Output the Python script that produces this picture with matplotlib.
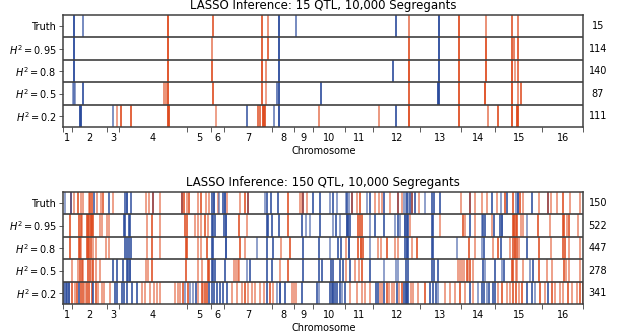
import numpy as np
import matplotlib
matplotlib.use("Agg")
import matplotlib.pyplot as plt
from matplotlib import transforms
from matplotlib.colors import to_rgba

# chromosome lengths in genome map units (16 yeast chromosomes)
CHROM_LEN = [8.4, 35.0, 12.6, 67.4, 24.3, 13.0, 47.7, 22.6,
             19.0, 31.7, 28.3, 46.7, 41.0, 34.0, 47.3, 41.0]
CHROM_NAMES = [str(i) for i in range(1, 17)]

ROW_LABELS = ["Truth", r"$H^2 = 0.95$", r"$H^2 = 0.8$", r"$H^2 = 0.5$", r"$H^2 = 0.2$"]

TITLE_15 = "LASSO Inference: 15 QTL, 10,000 Segregants"
TITLE_150 = "LASSO Inference: 150 QTL, 10,000 Segregants"
COUNTS_15 = [15, 114, 140, 87, 111]
COUNTS_150 = [150, 522, 447, 278, 341]

# (position, effect) ; effect > 0 red, < 0 blue, |effect| = strength
q15_truth = [(11.0, -0.9), (19.4, -0.55), (105.0, 0.9), (149.7, 0.75), (198.4, 0.8),
             (205.0, 0.5), (215.4, -0.9), (232.4, -0.55), (333.0, -0.8), (345.4, 0.55),
             (375.4, -0.9), (395.4, 0.85), (423.0, 0.5), (448.4, 0.75), (454.4, 0.6)]
q15_h95 = [(11.0, -0.9), (105.0, 0.9), (148.7, 0.5), (199.0, 0.8), (204.4, 0.75),
           (215.4, -0.9), (345.4, 0.8), (375.4, -0.9), (395.4, 0.85), (422.7, 0.85),
           (448.4, 0.8), (450.4, 0.6), (454.4, 0.8)]
q15_h80 = [(11.0, -0.9), (105.0, 0.9), (149.0, 0.8), (199.0, 0.9), (202.7, 0.5),
           (215.4, -0.9), (330.0, -0.8), (346.0, 0.9), (375.4, -0.9), (395.4, 0.85),
           (422.7, 0.85), (448.4, 0.9), (451.7, 0.4), (454.4, 0.7)]
q15_h50 = [(9.4, -0.4), (10.4, -0.4), (11.4, -0.4), (19.4, -0.8), (101.0, 0.5),
           (102.7, 0.5), (105.0, 0.9), (149.7, 0.8), (199.0, 0.8), (202.4, 0.4),
           (213.7, -0.6), (215.4, -0.9), (257.4, -0.8), (345.4, 0.8), (375.0, -0.9),
           (376.0, -0.9), (395.4, 0.85), (421.4, 0.9), (448.4, 0.9), (454.4, 0.5),
           (457.4, 0.75)]
q15_h20 = [(17.0, -0.9), (18.0, -0.9), (49.7, -0.5), (53.2, 0.4), (57.9, 0.8),
           (67.4, 0.8), (104.4, 0.9), (105.7, 0.9), (152.7, 0.4), (183.2, -0.7),
           (195.0, 0.7), (196.7, 0.7), (199.2, 0.9), (200.5, 0.8), (201.9, 0.8),
           (210.5, -0.5), (215.7, -0.95), (256.0, 0.5), (315.9, 0.45), (333.0, -0.8),
           (346.0, 0.9), (395.4, 0.85), (424.5, 0.5), (434.7, 0.8), (448.4, 0.9),
           (453.2, 0.9), (454.9, 0.9)]

q150_truth = [
    (1.7, -0.4), (7.4, 0.7), (7.4, -0.6), (10.7, 0.4), (15.0, 0.75), (17.4, 0.4),
    (19.4, 0.4), (25.4, 0.4), (26.7, 0.75), (28.7, 0.75), (31.0, -0.7), (33.4, 0.4),
    (37.4, 0.4), (39.4, 0.7), (46.0, -0.7), (49.4, 0.4), (61.4, -0.7), (63.4, -0.9),
    (67.4, -0.7), (82.7, 0.4), (86.0, 0.4), (89.4, -0.8), (89.4, 0.5), (96.7, 0.4),
    (119.0, -0.8), (119.0, 0.6), (121.0, 0.75), (123.4, 0.4), (125.7, 0.75), (135.0, 0.4),
    (137.7, 0.75), (142.4, 0.4), (145.7, 0.4), (148.4, -0.75), (151.0, -0.9), (154.4, 0.4),
    (156.0, -0.4), (160.0, -0.75), (161.7, -0.9), (163.4, 0.4), (176.7, 0.4), (181.7, 0.75),
    (184.4, -0.8), (184.4, 0.5), (201.7, -0.4), (203.4, -0.75), (207.4, -0.75), (215.0, -0.75),
    (225.0, 0.75), (236.7, 0.4), (238.4, 0.4), (240.0, -0.8), (240.0, 0.5), (243.4, 0.4),
    (249.4, -0.75), (256.7, -0.75), (266.7, -0.4), (270.0, -0.75), (273.4, -0.4), (282.7, -0.4),
    (284.0, -0.75), (286.0, -0.4), (288.4, -0.8), (288.4, 0.5), (294.0, 0.4), (296.7, 0.75),
    (304.0, -0.4), (306.7, -0.75), (311.7, 0.4), (315.7, 0.4), (318.4, 0.4), (321.0, -0.75),
    (326.7, 0.4), (334.4, -0.8), (334.4, 0.5), (338.4, 0.4), (341.0, -0.4), (342.4, -0.4),
    (343.7, -0.75), (345.0, -0.4), (346.4, -0.75), (348.4, -0.8), (348.4, 0.5), (351.7, -0.75),
    (355.7, 0.4), (361.7, -0.4), (369.0, -0.75), (371.0, -0.75), (376.7, -0.75), (397.7, 0.4),
    (406.7, -0.8), (406.7, 0.5), (411.7, 0.4), (418.4, 0.4), (423.4, 0.4), (428.4, -0.75),
    (434.0, 0.4), (437.4, -0.4), (441.7, 0.75), (443.4, -0.75), (450.0, 0.75), (452.7, -0.4),
    (455.0, -0.9), (456.7, 0.75), (459.4, 0.4), (468.4, -0.75), (476.0, 0.4), (485.0, -0.8),
    (485.0, 0.5), (487.4, 0.4), (494.0, 0.4), (499.4, 0.75), (506.7, 0.4), (516.7, 0.4)]
q150_h95 = [
    (6.7, 0.75), (16.0, 0.75), (17.4, 0.75), (18.7, 0.4), (24.0, 0.75), (25.0, 0.75),
    (26.0, 0.75), (27.4, 0.9), (28.7, 0.75), (30.0, 0.75), (36.7, 0.4), (38.7, 0.4),
    (43.4, 0.4), (46.0, 0.4), (60.7, -0.75), (62.0, -0.75), (65.4, -0.75), (66.7, -0.75),
    (84.0, 0.4), (88.4, 0.75), (96.7, 0.4), (121.7, 0.75), (123.4, 0.75), (131.7, 0.4),
    (135.0, 0.4), (137.7, 0.4), (141.7, 0.75), (145.0, 0.4), (148.4, -0.75), (150.0, -0.75),
    (151.7, -0.75), (161.0, -0.75), (162.4, -0.9), (175.7, 0.75), (183.4, 0.4), (203.4, -0.75),
    (205.0, -0.75), (208.4, -0.75), (216.0, -0.75), (225.0, 0.75), (238.4, -0.75), (242.7, -0.4),
    (246.7, -0.4), (256.7, -0.75), (269.4, -0.4), (272.7, -0.75), (276.7, -0.4), (283.4, -0.9),
    (285.0, -0.9), (286.7, -0.75), (295.0, 0.75), (296.7, 0.75), (298.4, 0.75), (306.7, -0.4),
    (311.7, -0.75), (321.0, -0.75), (331.7, -0.4), (334.4, -0.75), (336.7, -0.4), (341.7, -0.9),
    (343.4, -0.9), (345.0, -0.75), (346.7, 0.4), (368.4, -0.75), (370.0, -0.75), (376.7, 0.4),
    (400.0, 0.75), (401.7, 0.4), (406.7, -0.75), (411.7, 0.4), (418.4, -0.4), (420.0, -0.75),
    (421.7, -0.75), (428.4, 0.4), (430.7, -0.75), (436.7, -0.75), (438.4, -0.9), (449.4, 0.75),
    (450.7, 0.9), (452.7, 0.75), (454.0, 0.75), (457.4, 0.4), (460.0, 0.4), (463.4, -0.4),
    (475.0, 0.75), (486.7, 0.4), (499.4, 0.75), (500.7, 0.75), (503.4, 0.4), (506.0, 0.75),
    (515.0, 0.4)]
q150_h80 = [
    (6.7, 0.75), (15.4, 0.75), (16.7, 0.75), (18.0, 0.4), (23.4, 0.75), (24.7, 0.75),
    (26.0, 0.75), (27.4, 0.75), (30.0, 0.4), (32.7, 0.4), (42.7, 0.4), (45.4, 0.4),
    (61.7, -0.75), (63.4, -0.75), (66.0, -0.75), (67.4, -0.75), (83.4, 0.4), (88.4, 0.75),
    (96.7, 0.4), (122.4, 0.75), (123.7, 0.75), (135.0, 0.4), (137.7, 0.4), (143.4, 0.75),
    (148.4, -0.75), (150.0, -0.75), (162.4, -0.9), (176.7, 0.75), (181.7, 0.4), (194.0, -0.4),
    (203.4, -0.75), (209.4, -0.75), (217.4, 0.4), (226.7, 0.75), (240.0, -0.75), (256.0, -0.75),
    (266.7, -0.4), (275.0, -0.75), (277.4, -0.75), (282.7, 0.4), (286.0, -0.9), (295.0, 0.75),
    (297.4, 0.9), (299.4, 0.75), (306.7, -0.4), (315.0, 0.4), (317.7, 0.4), (323.4, 0.75),
    (331.7, 0.4), (335.0, 0.4), (341.7, -0.75), (343.4, -0.9), (345.0, -0.75), (348.4, 0.4),
    (353.4, 0.75), (368.4, -0.75), (370.0, -0.75), (393.4, -0.4), (405.7, 0.75), (411.7, 0.4),
    (418.4, -0.4), (420.7, -0.75), (429.4, 0.4), (435.0, 0.75), (437.4, -0.75), (446.7, 0.4),
    (450.0, 0.75), (451.7, 0.9), (453.4, 0.75), (456.0, 0.4), (463.4, -0.75), (476.0, 0.75),
    (487.4, 0.4), (500.0, 0.75), (501.7, 0.75), (506.0, 0.4), (516.7, 0.4)]
q150_h50 = [
    (8.4, 0.4), (15.0, 0.4), (16.7, 0.75), (18.4, 0.75), (20.0, 0.4), (25.0, 0.75),
    (26.7, 0.75), (28.4, 0.4), (30.0, 0.75), (32.7, 0.4), (36.7, 0.4), (50.0, -0.75),
    (53.4, -0.75), (59.4, -0.75), (64.0, -0.75), (65.0, -0.75), (66.7, -0.9), (82.7, 0.4),
    (85.0, 0.4), (88.4, 0.75), (122.4, 0.75), (135.0, 0.4), (138.4, 0.4), (144.4, 0.75),
    (145.7, 0.75), (148.4, -0.75), (150.0, -0.75), (151.7, -0.75), (161.7, -0.75), (171.0, 0.4),
    (172.7, 0.4), (174.4, 0.4), (175.7, 0.4), (183.4, -0.4), (186.7, -0.75), (203.4, -0.75),
    (208.4, -0.75), (216.7, 0.4), (225.0, 0.75), (240.0, -0.75), (256.0, -0.75), (258.4, -0.75),
    (267.4, -0.75), (270.0, -0.75), (276.7, -0.75), (279.4, -0.75), (282.7, 0.4), (286.7, -0.75),
    (291.7, 0.4), (296.0, 0.4), (298.4, 0.75), (306.7, -0.75), (321.0, -0.4), (332.4, -0.4),
    (335.0, -0.4), (342.4, -0.75), (344.4, -0.75), (369.0, -0.75), (371.0, -0.75), (374.4, -0.75),
    (395.0, 0.4), (396.7, 0.4), (399.0, 0.4), (401.0, 0.4), (403.4, 0.75), (405.0, 0.4),
    (406.7, 0.75), (410.0, 0.4), (419.4, -0.75), (421.7, -0.4), (431.7, -0.75), (438.4, -0.4),
    (440.7, -0.75), (448.4, 0.75), (450.0, 0.75), (452.7, 0.4), (454.0, 0.4), (459.4, 0.4),
    (466.7, -0.4), (470.0, -0.75), (476.0, 0.75), (483.4, 0.4), (488.4, 0.4), (500.7, 0.75),
    (502.7, 0.4), (506.0, 0.4), (516.7, 0.4)]
q150_h20 = [
    (0.7, -0.75), (2.4, -0.75), (4.0, -0.75), (5.4, -0.9), (8.4, 0.75), (11.7, 0.4),
    (14.0, 0.75), (16.0, -0.75), (17.4, 0.75), (20.0, 0.75), (22.0, 0.4), (24.0, 0.75),
    (26.0, 0.75), (28.4, 0.75), (30.0, -0.75), (32.7, 0.75), (35.0, 0.4), (38.4, 0.4),
    (40.7, 0.4), (46.7, 0.4), (51.7, -0.75), (54.0, -0.75), (58.4, -0.75), (61.0, -0.75),
    (63.4, -0.75), (68.4, -0.75), (73.4, -0.75), (78.4, 0.4), (81.7, 0.4), (86.7, 0.4),
    (90.7, 0.4), (93.4, 0.4), (96.7, 0.4), (111.7, 0.4), (114.4, 0.4), (116.7, 0.4),
    (120.0, 0.75), (121.7, -0.4), (124.4, 0.75), (126.7, -0.4), (130.0, -0.4), (132.4, -0.75),
    (135.0, 0.4), (138.4, 0.75), (140.0, 0.4), (141.7, 0.75), (143.4, 0.75), (145.7, -0.75),
    (148.4, -0.75), (151.0, -0.75), (153.4, -0.75), (156.7, -0.75), (160.0, -0.75), (163.4, -0.75),
    (168.4, 0.4), (173.4, 0.4), (178.4, 0.4), (181.7, 0.75), (185.0, 0.4), (188.4, 0.4),
    (191.7, 0.4), (196.7, 0.4), (201.0, 0.4), (203.4, -0.75), (206.7, 0.75), (210.0, 0.4),
    (214.0, -0.4), (216.7, -0.9), (221.7, -0.75), (228.4, 0.4), (230.7, 0.4), (232.7, 0.4),
    (238.4, -0.75), (253.4, -0.75), (256.0, -0.4), (266.7, -0.75), (268.4, -0.75), (270.0, -0.9),
    (271.7, -0.75), (273.4, -0.75), (276.7, -0.75), (278.4, -0.4), (281.7, -0.75), (286.7, 0.4),
    (294.0, 0.4), (298.4, 0.4), (301.7, 0.4), (306.7, 0.4), (312.4, -0.75), (315.0, -0.75),
    (316.7, 0.4), (318.4, 0.4), (321.0, -0.75), (323.4, 0.75), (325.7, 0.4), (328.4, 0.4),
    (331.0, 0.4), (333.4, -0.75), (335.7, 0.4), (338.4, 0.75), (341.0, -0.75), (342.4, -0.9),
    (343.7, -0.9), (345.0, -0.75), (347.7, 0.4), (350.0, 0.4), (355.0, 0.4), (361.7, 0.75),
    (366.7, -0.75), (370.0, -0.75), (372.4, -0.75), (375.0, -0.4), (381.7, 0.4), (386.7, 0.4),
    (391.7, 0.4), (396.7, 0.75), (401.7, 0.4), (406.7, -0.75), (410.0, 0.4), (415.0, -0.4),
    (418.4, -0.75), (420.7, -0.75), (423.4, -0.4), (426.0, -0.75), (429.4, -0.75), (431.7, -0.75),
    (435.0, 0.4), (438.4, 0.75), (443.4, 0.4), (446.7, 0.4), (450.0, 0.75), (452.7, 0.75),
    (456.0, 0.4), (458.4, 0.75), (463.4, -0.75), (468.4, -0.75), (471.7, -0.4), (476.7, 0.75),
    (481.7, 0.4), (485.0, -0.75), (488.4, 0.75), (491.7, 0.4), (496.7, 0.4), (500.0, 0.4),
    (505.0, 0.75), (508.4, 0.4), (513.4, 0.4), (516.7, 0.75), (519.4, 0.75)]

ROWS_15 = [q15_truth, q15_h95, q15_h80, q15_h50, q15_h20]
ROWS_150 = [q150_truth, q150_h95, q150_h80, q150_h50, q150_h20]

RED = "#de4a1e"
BLUE = "#2a4a9c"
FRAME = "0.25"


def strength_alpha(e):
    return min(1.0, 0.2 + 0.9 * abs(e))


def draw_panel(ax, rows, counts, title):
    n = len(rows)
    bounds = np.concatenate([[0], np.cumsum(CHROM_LEN)])
    mids = (bounds[:-1] + bounds[1:]) / 2

    for i, row in enumerate(rows):
        top = n - i
        pos = [p for p, e in row]
        cols = [to_rgba(RED if e > 0 else BLUE, strength_alpha(e)) for p, e in row]
        ax.vlines(pos, top - 1, top, colors=cols, lw=1.3)

    for y in range(1, n):
        ax.axhline(y, color=FRAME, lw=1.2, zorder=5)

    ax.set_xlim(bounds[0], bounds[-1])
    ax.set_ylim(0, n)
    ax.set_yticks(np.arange(n) + 0.5)
    ax.set_yticklabels(ROW_LABELS[::-1], fontsize=7)
    ax.tick_params(axis="y", length=3, width=0.6, color=FRAME, pad=2)

    ax.set_xticks(bounds)
    ax.set_xticklabels([])
    ax.set_xticks(mids, minor=True)
    ax.set_xticklabels(CHROM_NAMES, minor=True, fontsize=7)
    ax.tick_params(axis="x", which="major", length=3.5, width=0.6, color=FRAME)
    ax.tick_params(axis="x", which="minor", length=0, pad=4)
    ax.set_xlabel("Chromosome", fontsize=7, labelpad=2.5)

    for s in ax.spines.values():
        s.set_color(FRAME)
        s.set_linewidth(1.1)

    trans = transforms.blended_transform_factory(ax.transAxes, ax.transData)
    for i, c in enumerate(counts):
        ax.text(1.028, n - i - 0.5, str(c), transform=trans,
                ha="center", va="center", fontsize=7)

    ax.set_title(title, fontsize=8.5, pad=4)


fig = plt.figure(figsize=(6.17, 3.34), dpi=100)
ax1 = fig.add_axes([0.1026, 0.619, 0.8428, 0.336])
ax2 = fig.add_axes([0.1026, 0.0889, 0.8428, 0.337])

draw_panel(ax1, ROWS_15, COUNTS_15, TITLE_15)
draw_panel(ax2, ROWS_150, COUNTS_150, TITLE_150)

fig.savefig("out.png", dpi=100)
